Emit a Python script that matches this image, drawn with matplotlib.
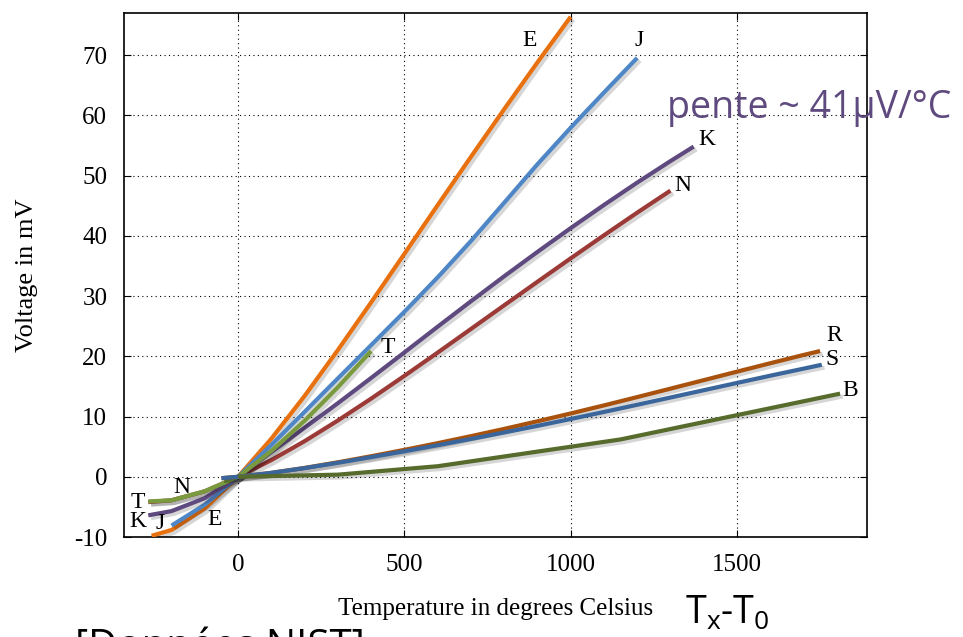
import matplotlib
matplotlib.use("Agg")
import matplotlib.pyplot as plt
import matplotlib.patheffects as pe

# ---- data (mV vs degC) ----
E_t = [-260, -200, -100, 0, 100, 200, 300, 400, 500, 600, 700, 800, 900, 1000]
E_v = [-9.80, -8.83, -5.24, 0, 6.32, 13.42, 21.04, 28.95, 37.01, 45.09, 53.11, 61.02, 68.79, 76.37]

J_t = [-200, -100, 0, 100, 200, 300, 400, 500, 600, 700, 800, 900, 1000, 1100, 1200]
J_v = [-8.1, -4.63, 0, 5.27, 10.78, 16.33, 21.85, 27.39, 33.10, 39.13, 45.49, 51.88, 57.95, 63.79, 69.55]

K_t = [-270, -200, -100, 0, 100, 200, 300, 400, 500, 600, 700, 800, 900, 1000, 1100, 1200, 1300, 1370]
K_v = [-6.4, -5.7, -3.55, 0, 4.10, 8.14, 12.21, 16.40, 20.64, 24.91, 29.13, 33.28, 37.33, 41.28, 45.12, 48.84, 52.41, 54.82]

N_t = [-270, -200, -100, 0, 100, 200, 300, 400, 500, 600, 700, 800, 900, 1000, 1100, 1200, 1300]
N_v = [-4.2, -3.9, -2.41, 0, 2.77, 5.91, 9.34, 12.97, 16.75, 20.61, 24.53, 28.46, 32.37, 36.26, 40.09, 43.85, 47.51]

T_t = [-270, -200, -100, 0, 100, 200, 300, 400]
T_v = [-4.1, -3.9, -2.4, 0, 4.28, 9.29, 14.86, 20.87]

R_t = [-50, 0, 100, 200, 300, 400, 500, 600, 700, 800, 900, 1000, 1100, 1200, 1300, 1400, 1500, 1600, 1700, 1750]
R_v = [-0.23, 0, 0.65, 1.47, 2.40, 3.41, 4.47, 5.58, 6.74, 7.95, 9.21, 10.51, 11.85, 13.23, 14.63, 16.04, 17.45, 18.85, 20.22, 20.88]

S_t = [-50, 0, 100, 200, 300, 400, 500, 600, 700, 800, 900, 1000, 1100, 1200, 1300, 1400, 1500, 1600, 1700, 1755]
S_v = [-0.24, 0, 0.65, 1.44, 2.32, 3.26, 4.23, 5.24, 6.28, 7.35, 8.45, 9.59, 10.76, 11.95, 13.16, 14.37, 15.58, 16.78, 17.95, 18.6]

B_t = [0, 300, 600, 1150, 1810]
B_v = [0, 0.35, 1.75, 6.2, 13.8]

x_ticks = [0, 500, 1000, 1500]
y_ticks = [-10, 0, 10, 20, 30, 40, 50, 60, 70]

series = [
    ("N", N_t, N_v, "#9B3A37"),
    ("E", E_t, E_v, "#E8700F"),
    ("J", J_t, J_v, "#4E86C6"),
    ("K", K_t, K_v, "#5E4A7E"),
    ("T", T_t, T_v, "#7A9A3E"),
    ("R", R_t, R_v, "#A8520E"),
    ("S", S_t, S_v, "#3A669C"),
    ("B", B_t, B_v, "#566B2C"),
]

labels = [
    ("E", 875, 72.5), ("J", 1205, 72.5), ("K", 1409, 56.0), ("N", 1337, 48.3),
    ("T", 450, 21.4), ("R", 1793, 23.4), ("S", 1787, 19.4), ("B", 1841, 14.3),
    ("T", -300, -4.3), ("N", -168, -1.7), ("K", -300, -7.5), ("J", -234, -7.8), ("E", -72, -7.1),
]

serif = ["Liberation Serif", "DejaVu Serif"]
plt.rcParams["axes.unicode_minus"] = False
plt.rcParams["mathtext.default"] = "regular"

fig = plt.figure(figsize=(9.63, 6.37), dpi=100)
ax = fig.add_axes([124 / 963, 1 - 537 / 637, (867 - 124) / 963, (537 - 13) / 637])

shadow = [pe.SimpleLineShadow(offset=(2, -2), alpha=0.16, shadow_color="black"), pe.Normal()]
for name, t, v, c in series:
    ax.plot(t, v, color=c, lw=3.0, solid_capstyle="butt", path_effects=shadow, zorder=3)

for txt, x, y in labels:
    ax.text(x, y, txt, family=serif, fontsize=17, ha="center", va="center", zorder=5)

ax.set_xlim(-343, 1891)
ax.set_ylim(-10, 77)
ax.set_xticks(x_ticks)
ax.set_yticks(y_ticks)
ax.grid(True, color="black", linestyle=(0, (1, 3)), linewidth=0.8)
ax.tick_params(direction="in", top=True, right=True, length=5, labelsize=18)
ax.tick_params(axis="x", pad=12)
ax.tick_params(axis="y", pad=12)
for lab in ax.get_xticklabels() + ax.get_yticklabels():
    lab.set_family(serif)
for s in ax.spines.values():
    s.set_linewidth(1.2)

ax.set_xlabel("Temperature in degrees Celsius", family=serif, fontsize=18, labelpad=16)
ax.set_ylabel("Voltage in mV", family=serif, fontsize=19, labelpad=26)

fig.text(667 / 963, 1 - 118 / 637, "pente ~ 41µV/°C", family=["Open Sans", "DejaVu Sans"],
         fontsize=27, color="#5E4A7E", ha="left", va="baseline")
fig.text(685 / 963, 1 - 624 / 637, r"T$_{x}$-T$_{0}$", family=["Open Sans", "DejaVu Sans"],
         fontsize=27, color="black", ha="left", va="baseline")
fig.text(75 / 963, 1 - 627 / 637, "[Données NIST]", family=["Open Sans", "DejaVu Sans"],
         fontsize=29, color="black", ha="left", va="top")

fig.savefig("out.png", dpi=100)
